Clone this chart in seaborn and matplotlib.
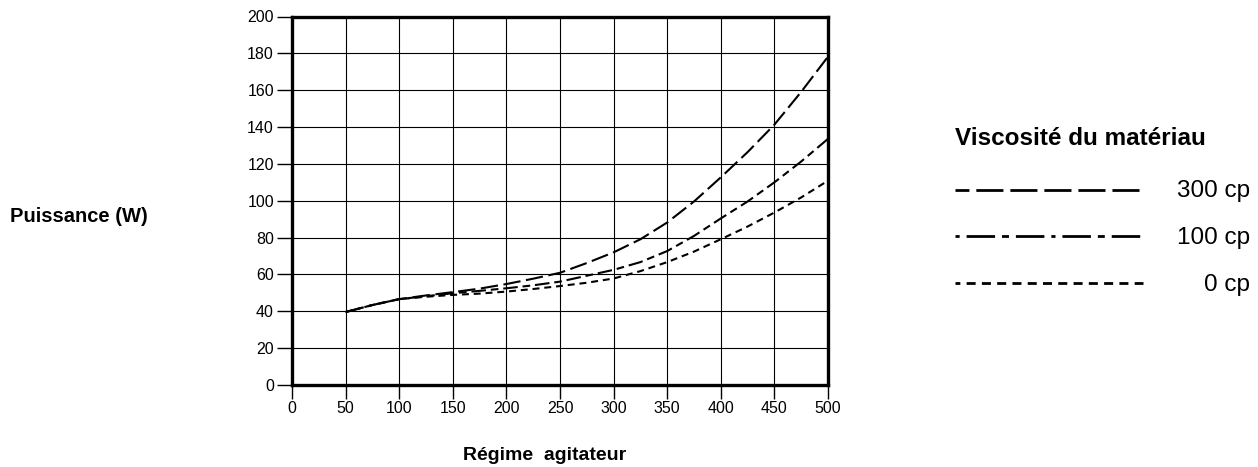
import matplotlib
matplotlib.use("Agg")
import matplotlib.pyplot as plt
from matplotlib.lines import Line2D
import seaborn as sns
import pandas as pd

# ---- data ----
rpm = [50, 75, 100, 125, 150, 175, 200, 225, 250, 275, 300, 325, 350, 375, 400, 425, 450, 475, 500]
p_300cp = [39.6, 43.4, 46.6, 48.6, 50.4, 52.3, 54.8, 57.7, 60.9, 66.2, 72.0, 79.1, 88.2, 99.6, 112.7, 126.4, 141.3, 159.1, 178.2]
p_100cp = [39.6, 43.4, 46.6, 48.2, 49.8, 51.1, 52.5, 54.1, 56.1, 59.3, 62.5, 66.7, 72.7, 80.9, 90.4, 99.6, 110.0, 121.3, 133.6]
p_0cp = [39.6, 43.4, 46.6, 47.9, 48.9, 49.6, 50.7, 52.1, 53.7, 55.5, 57.8, 61.8, 66.7, 72.4, 79.1, 86.0, 93.6, 101.8, 110.9]
series_labels = ["300 cp", "100 cp", "0 cp"]
x_ticks = [0, 50, 100, 150, 200, 250, 300, 350, 400, 450, 500]
y_ticks = [0, 20, 40, 60, 80, 100, 120, 140, 160, 180, 200]
x_label = "Régime  agitateur"
y_label = "Puissance (W)"
legend_title = "Viscosité du matériau"

df = pd.DataFrame({
    "rpm": rpm * 3,
    "power": p_300cp + p_100cp + p_0cp,
    "visc": [series_labels[0]] * len(rpm) + [series_labels[1]] * len(rpm) + [series_labels[2]] * len(rpm),
})

sns.set_style("white")
plt.rcParams["font.family"] = ["Liberation Sans", "DejaVu Sans"]
plt.rcParams["lines.scale_dashes"] = False
plt.rcParams["text.color"] = "black"
plt.rcParams["axes.labelcolor"] = "black"
plt.rcParams["xtick.color"] = "black"
plt.rcParams["ytick.color"] = "black"

W, H = 1258, 467
fig = plt.figure(figsize=(W / 100, H / 100), dpi=100)
x0, x1, y0, y1 = 292, 828, 16.5, 385
ax = fig.add_axes([x0 / W, 1 - y1 / H, (x1 - x0) / W, (y1 - y0) / H])

plot_dashes = {
    "300 cp": (12.5, 4.0),
    "100 cp": (10.5, 3.5, 5.5, 3.5),
    "0 cp": (5.0, 3.5),
}
sns.lineplot(data=df, x="rpm", y="power", hue="visc", style="visc",
             palette={k: "black" for k in series_labels}, dashes=plot_dashes,
             linewidth=1.5, legend=False, ax=ax, zorder=3)

ax.set_xlim(0, 500)
ax.set_ylim(0, 200)
ax.set_xticks(x_ticks)
ax.set_yticks(y_ticks)
ax.grid(True, color="black", linewidth=0.8)
for s in ax.spines.values():
    s.set_linewidth(2.4)
    s.set_color("black")
    s.set_visible(True)
ax.tick_params(axis="y", length=11, width=1, direction="out", pad=2,
               labelsize=11.5, colors="black", left=True)
ax.tick_params(axis="x", length=10, width=1, direction="out", pad=1.5,
               labelsize=11.5, colors="black", bottom=True)

ax.set_xlabel("")
ax.set_ylabel("")
fig.text(545 / W, 1 - 460 / H, x_label, fontsize=14, fontweight="bold",
         ha="center", va="baseline")
fig.text(78.5 / W, 1 - 222 / H, y_label, fontsize=14.5, fontweight="bold",
         ha="center", va="baseline")

# ---- legend (manual, right side) ----
fig.text(955 / W, 1 - 145 / H, legend_title, fontsize=17.5, fontweight="bold",
         ha="left", va="baseline")
legend_dashes = [
    (9.5, (19.5, 5.0)),
    (0.0, (3.0, 5.0, 20.5, 5.0, 5.0, 5.0, 20.5, 5.0)),
    (3.0, (6.5, 4.5)),
]
rows_y = [190, 236, 283]
for lab, (off, dsh), yy in zip(series_labels, legend_dashes, rows_y):
    ln = Line2D([955 / W, 1143 / W], [1 - yy / H, 1 - yy / H], transform=fig.transFigure,
                color="black", linewidth=2.0)
    ln.set_linestyle((off, dsh))
    fig.add_artist(ln)
    fig.text(1250 / W, 1 - (yy + 7.5) / H, lab, fontsize=17.5, ha="right", va="baseline")

fig.savefig("out.png", dpi=100)
